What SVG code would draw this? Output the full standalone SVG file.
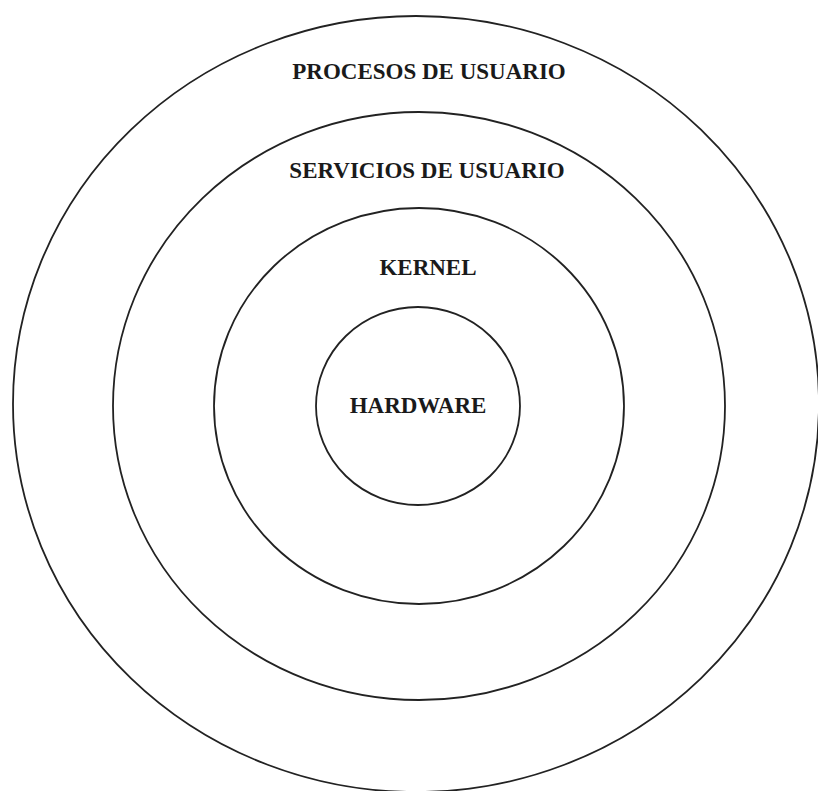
<svg xmlns="http://www.w3.org/2000/svg" width="818" height="791" viewBox="0 0 818 791">
<style>
.ring{fill:none;stroke:#222;stroke-width:1.8}
.lbl{font-family:"Liberation Serif","Times New Roman",serif;font-weight:bold;font-size:23px;fill:#1a1a1a;text-anchor:middle}
</style>
<rect width="818" height="791" fill="#fff"/>
<g id="procesos">
<ellipse class="ring" cx="416" cy="404" rx="403" ry="388"/>
<text class="lbl" x="429" y="79">PROCESOS DE USUARIO</text>
</g>
<g id="servicios">
<ellipse class="ring" cx="419" cy="406" rx="306" ry="294"/>
<text class="lbl" x="427" y="178">SERVICIOS DE USUARIO</text>
</g>
<g id="kernel">
<ellipse class="ring" cx="419" cy="406" rx="205" ry="198"/>
<text class="lbl" x="428" y="275">KERNEL</text>
</g>
<g id="hardware">
<ellipse class="ring" cx="418" cy="406" rx="102" ry="99"/>
<text class="lbl" x="418" y="413">HARDWARE</text>
</g>
<g id="connectors"></g>
</svg>
